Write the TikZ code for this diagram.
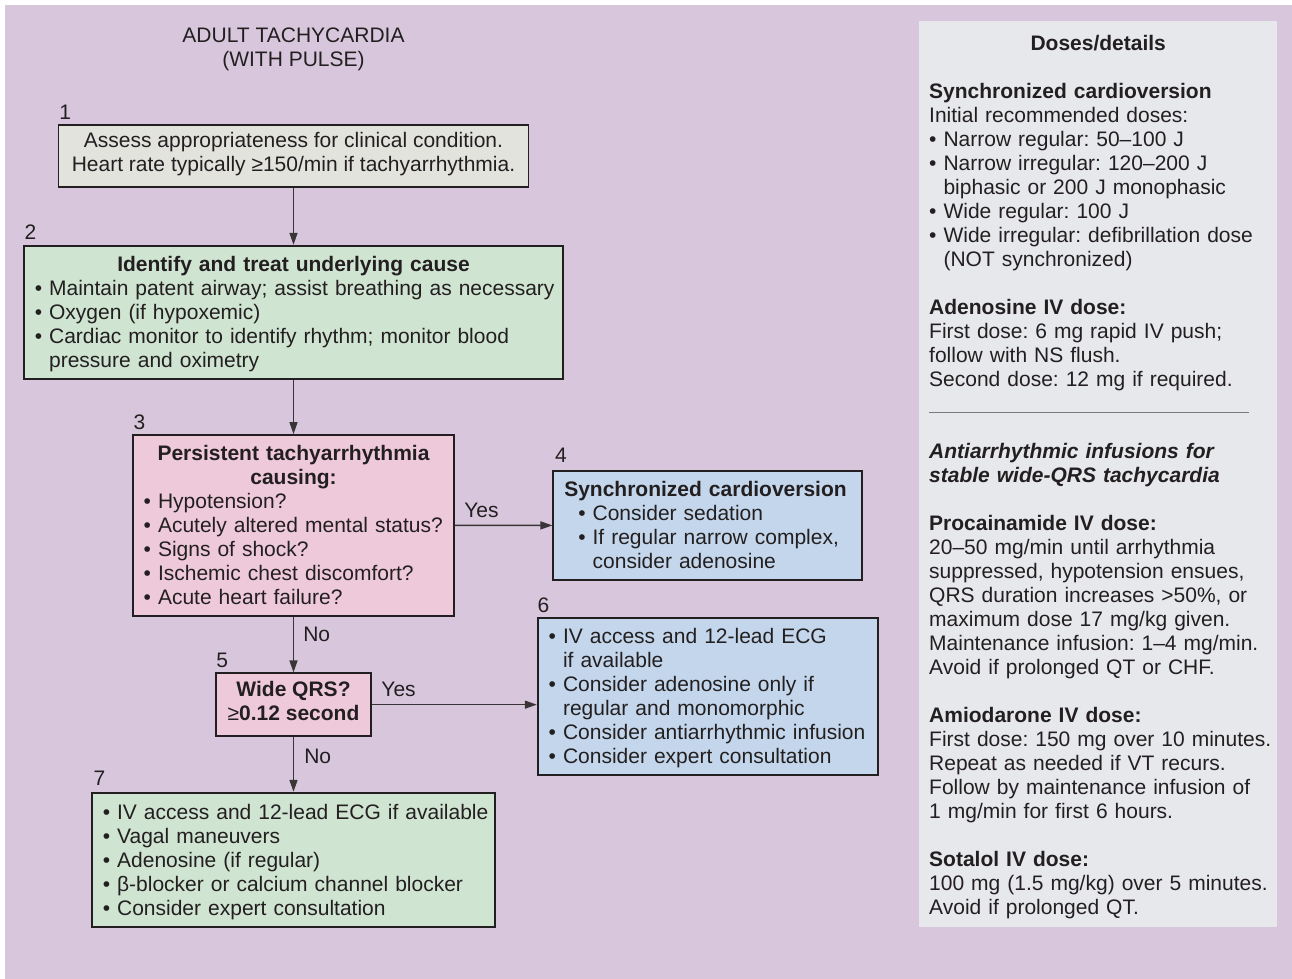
\documentclass[tikz,border=0pt]{standalone}
\usepackage{fontspec}
\setmainfont{Liberation Sans}
\usetikzlibrary{arrows.meta, positioning}
\definecolor{bglav}{HTML}{D8C7DC}
\definecolor{boxgray}{HTML}{E3E3DE}
\definecolor{boxgreen}{HTML}{CFE4D1}
\definecolor{boxpink}{HTML}{EEC9DA}
\definecolor{boxblue}{HTML}{C3D6EB}
\definecolor{panelgray}{HTML}{E7E8EC}
\definecolor{inkdark}{HTML}{231F20}

% bullet line and its continuation, kept on one line
\newcommand{\bul}[1]{\mbox{•\ #1}}
\newcommand{\bulsp}[1]{\mbox{\phantom{•\ }#1}}

\begin{document}
\begin{tikzpicture}[x=1pt, y=-1pt,
  txt/.style={font=\fontsize{21}{24}\selectfont\frenchspacing, text=inkdark},
  flow/.style={txt, rectangle, draw=inkdark, line width=1.8pt,
              inner xsep=11pt, inner ysep=0pt,
              execute at begin node=\rule{0pt}{22pt}, execute at end node=\strut},
  gbox/.style={flow, fill=boxgray, align=center},
  grbox/.style={flow, fill=boxgreen, align=left},
  pbox/.style={flow, fill=boxpink, align=left},
  bbox/.style={flow, fill=boxblue, align=left},
  ttl/.style={txt, align=center, inner sep=0pt,
              execute at begin node=\strut, execute at end node=\strut},
  num/.style={txt, inner sep=0pt},
  lbl/.style={txt, inner sep=3pt},
  arr/.style={-{Triangle[length=12pt,width=8pt]}, line width=1.5pt, draw=inkdark!90},
  panel/.style={rectangle, fill=panelgray, minimum width=358pt, minimum height=905.9pt, inner sep=0pt},
  dosetext/.style={txt, align=left, text width=360pt, inner sep=0pt,
              execute at begin node=\strut},
]
\useasboundingbox (0,0) rectangle (1292,979);
\fill[white] (0,0) rectangle (1292,979);
\fill[bglav] (5,5) rectangle (1292,979);

%% --- title ---
\node[ttl] (title) at (293.5,50.7) {ADULT TACHYCARDIA\\(WITH PULSE)};

%% --- algorithm column ---
\node[gbox, minimum width=470pt, minimum height=61.7pt] (b1) at (293.5,155.85)
  {Assess appropriateness for clinical condition.\\Heart rate typically ≥150/min if tachyarrhythmia.};
\node[grbox, text width=517.4pt, minimum height=133.6pt] (b2) at (293.5,312.5)
  {\makebox[\linewidth]{\bfseries Identify and treat underlying cause}\\
   \bul{Maintain patent airway; assist breathing as necessary}\\
   \bul{Oxygen (if hypoxemic)}\\
   \bul{Cardiac monitor to identify rhythm; monitor blood}\\
   \bulsp{pressure and oximetry}};
\node[pbox, text width=299.6pt, minimum height=181pt] (b3) at (293.5,525.5)
  {\makebox[\linewidth]{\bfseries Persistent tachyarrhythmia}\\
   \makebox[\linewidth]{\bfseries causing:}\\
   \bul{Hypotension?}\\
   \bul{Acutely altered mental status?}\\
   \bul{Signs of shock?}\\
   \bul{Ischemic chest discomfort?}\\
   \bul{Acute heart failure?}};
\node[bbox, text width=286.4pt, minimum height=109.3pt] (b4) at (707.5,525.35)
  {\mbox{\bfseries Synchronized cardioversion}\\
   \hspace*{14pt}\bul{Consider sedation}\\
   \hspace*{14pt}\bul{If regular narrow complex,}\\
   \hspace*{14pt}\bulsp{consider adenosine}};
\node[flow, fill=boxpink, align=center, minimum width=155.7pt, minimum height=62.7pt] (b5) at (293.5,704.65)
  {\textbf{Wide QRS?}\\≥\textbf{0.12 second}};
\node[bbox, text width=318pt, minimum height=157.3pt] (b6) at (707.7,696.35)
  {\bul{IV access and 12-lead ECG}\\
   \bulsp{if available}\\
   \bul{Consider adenosine only if}\\
   \bulsp{regular and monomorphic}\\
   \bul{Consider antiarrhythmic infusion}\\
   \bul{Consider expert consultation}};
\node[grbox, text width=381.4pt, minimum height=134pt] (b7) at (293.5,859.7)
  {\bul{IV access and 12-lead ECG if available}\\
   \bul{Vagal maneuvers}\\
   \bul{Adenosine (if regular)}\\
   \bul{β-blocker or calcium channel blocker}\\
   \bul{Consider expert consultation}};

%% --- step numbers ---
\node[num, anchor=base west] (n1) at ([shift={(1.5pt,5pt)}]b1.north west) {1};
\node[num, anchor=base west] (n2) at ([shift={(1.5pt,5pt)}]b2.north west) {2};
\node[num, anchor=base west] (n3) at ([shift={(1.5pt,5pt)}]b3.north west) {3};
\node[num, anchor=base west] (n4) at ([shift={(2.5pt,7pt)}]b4.north west) {4};
\node[num, anchor=base west] (n5) at ([shift={(1.5pt,5pt)}]b5.north west) {5};
\node[num, anchor=base west] (n6) at ([shift={(0.5pt,4pt)}]b6.north west) {6};
\node[num, anchor=base west] (n7) at ([shift={(2.5pt,6.5pt)}]b7.north west) {7};

%% --- connectors ---
\draw[arr] (b1) -- (b2);
\draw[arr] (b2) -- (b3);
\draw[arr] (b3) -- node[lbl, pos=0.27, above=4pt] {Yes} (b4);
\draw[arr] (b3) -- node[lbl, pos=0.32, right=6pt] {No} (b5);
\draw[arr] (b5) -- node[lbl, pos=0.16, above=4pt] {Yes} (b5.east -| b6.west);
\draw[arr] (b5) -- node[lbl, pos=0.35, right=7pt] {No} (b7);

%% --- doses / details panel ---
\node[panel] (doses) at (1098,473.85) {};
\node[dosetext, anchor=north west] (dosetxt) at (929,33.7)
  {\makebox[338pt]{\bfseries Doses/details}\\[24pt]
   \textbf{Synchronized cardioversion}\\
   Initial recommended doses:\\
   \bul{Narrow regular: 50–100 J}\\
   \bul{Narrow irregular: 120–200 J}\\
   \bulsp{biphasic or 200 J monophasic}\\
   \bul{Wide regular: 100 J}\\
   \bul{Wide irregular: defibrillation dose}\\
   \bulsp{(NOT synchronized)}\\[24pt]
   \textbf{Adenosine IV dose:}\\
   First dose: 6 mg rapid IV push;\\
   follow with NS flush.\\
   Second dose: 12 mg if required.\\
   {\color{inkdark!60}\rule[-2pt]{320pt}{0.8pt}}\\[24pt]
   {\bfseries\itshape Antiarrhythmic infusions for}\\
   {\bfseries\itshape stable wide-QRS tachycardia}\\[24pt]
   \textbf{Procainamide IV dose:}\\
   20–50 mg/min until arrhythmia\\
   suppressed, hypotension ensues,\\
   QRS duration increases >50\%, or\\
   maximum dose 17 mg/kg given.\\
   Maintenance infusion: 1–4 mg/min.\\
   Avoid if prolonged QT or CHF.\\[24pt]
   \textbf{Amiodarone IV dose:}\\
   \mbox{First dose: 150 mg over 10 minutes.}\\
   Repeat as needed if VT recurs.\\
   Follow by maintenance infusion of\\
   1 mg/min for first 6 hours.\\[24pt]
   \textbf{Sotalol IV dose:}\\
   \mbox{100 mg (1.5 mg/kg) over 5 minutes.}\\
   Avoid if prolonged QT.};
\end{tikzpicture}
\end{document}
